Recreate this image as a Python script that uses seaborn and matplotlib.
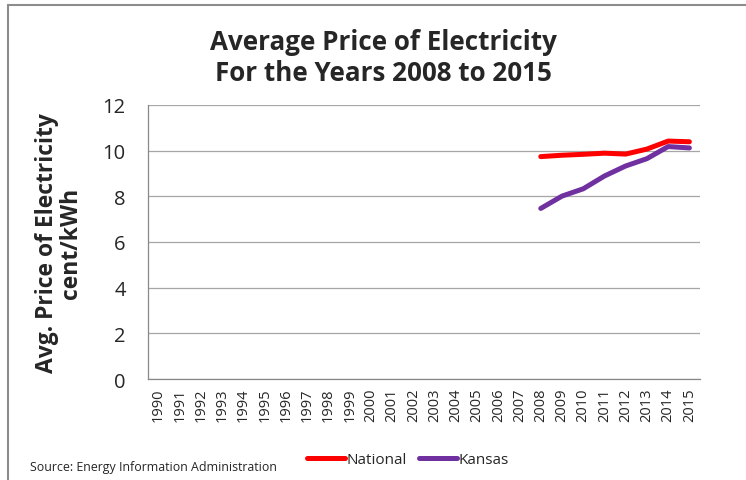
import matplotlib
matplotlib.use("Agg")
import matplotlib.pyplot as plt
import seaborn as sns
import pandas as pd
from matplotlib.lines import Line2D

years = list(range(1990, 2016))
data_years = [2008, 2009, 2010, 2011, 2012, 2013, 2014, 2015]
national = [9.74, 9.80, 9.84, 9.89, 9.85, 10.07, 10.42, 10.39]
kansas = [7.47, 8.01, 8.33, 8.89, 9.33, 9.65, 10.18, 10.12]
series_names = ["National", "Kansas"]
colors = ["#FF0000", "#7030A0"]
y_ticks = [0, 2, 4, 6, 8, 10, 12]

df = pd.DataFrame({
    "Year": data_years * 2,
    "Price": national + kansas,
    "Series": ["National"] * len(national) + ["Kansas"] * len(kansas),
})

sns.set_style("white")
plt.rcParams["font.family"] = ["Open Sans", "DejaVu Sans"]

fig = plt.figure(figsize=(7.46, 4.81), dpi=100)
ax = fig.add_axes([148/746, 1-380/481, (700-148)/746, (380-106)/481])

sns.lineplot(data=df, x="Year", y="Price", hue="Series", hue_order=series_names,
             palette=colors, linewidth=3.6, ax=ax, legend=False)

ax.set_xlim(years[0]-0.5, years[-1]+0.5)
ax.set_ylim(0, 12)
ax.set_yticks(y_ticks)
ax.set_yticklabels([str(t) for t in y_ticks], fontsize=14.5)
ax.set_xticks(years)
ax.set_xticklabels([str(y) for y in years], rotation=90, fontsize=10.5)
ax.set_xticks([y - 0.5 for y in years] + [years[-1] + 0.5], minor=True)
ax.tick_params(axis="x", which="major", length=0, pad=6)
ax.tick_params(axis="x", which="minor", length=5, color="#888888", width=0.8, direction="out")
ax.tick_params(axis="y", length=6, color="#888888", width=0.8, direction="out", pad=10)
ax.yaxis.grid(True, color="#a6a6a6", linewidth=0.9)
ax.xaxis.grid(False)
for s in ["top", "right"]:
    ax.spines[s].set_visible(False)
for s in ["left", "bottom"]:
    ax.spines[s].set_color("#888888")
    ax.spines[s].set_linewidth(0.9)
ax.set_xlabel("")
ax.set_ylabel("Avg. Price of Electricity\ncent/kWh", fontsize=16.5, fontweight="bold",
              linespacing=1.0, labelpad=14)

fig.text(383/746, 1-58/481, "Average Price of Electricity\nFor the Years 2008 to 2015",
         ha="center", va="center", fontsize=18.7, fontweight="bold", linespacing=1.22)

fig.text(30/746, 1-468/481, "Source: Energy Information Administration",
         ha="left", va="center", fontsize=8.9)

handles = [Line2D([0], [0], color=c, lw=3.6) for c in colors]
fig.legend(handles, series_names, loc="center", bbox_to_anchor=(408/746, 1-461/481),
           ncol=2, frameon=False, fontsize=11, handlelength=2.5, handletextpad=0.1,
           columnspacing=0.8)

fig.add_artist(Line2D([8/746, 8/746], [0, 1-6/481], transform=fig.transFigure,
                      color="#8c8c8c", lw=1.5))
fig.add_artist(Line2D([8/746, 1], [1-6/481, 1-6/481], transform=fig.transFigure,
                      color="#8c8c8c", lw=1.5))

fig.savefig("out.png", dpi=100)
